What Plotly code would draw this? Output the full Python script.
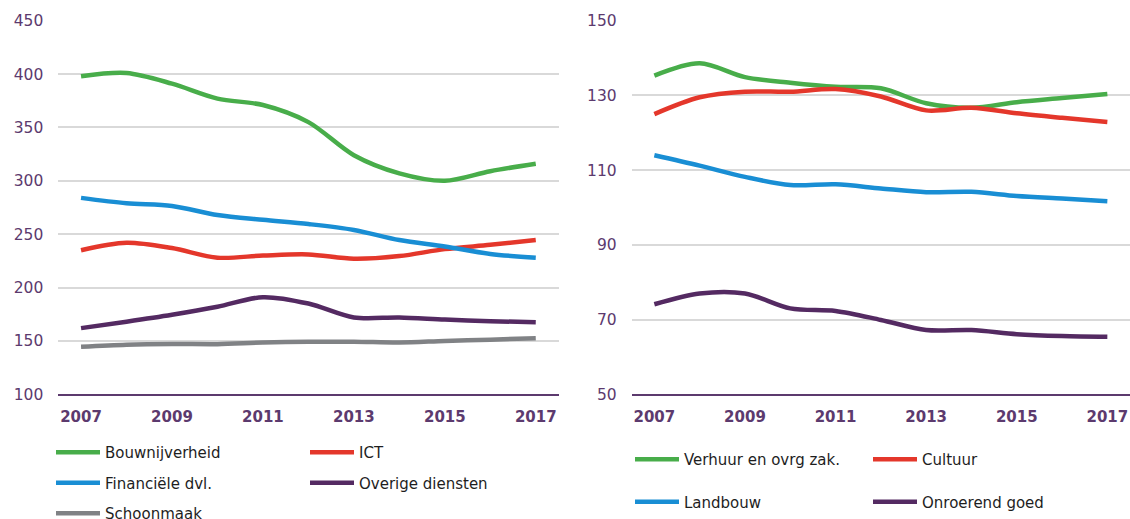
import plotly.graph_objects as go

years = list(range(2007, 2018))
tick_years = [2007, 2009, 2011, 2013, 2015, 2017]

# Left panel
bouwnijverheid = [398, 401, 391, 377, 371, 355, 324, 307, 300, 309, 316]
ict = [235, 242, 237, 228, 230, 231, 227, 229.5, 236, 240, 244.5]
financiele = [284, 279, 276.5, 268, 263.5, 259.5, 254, 244.5, 238.5, 231.5, 228]
overige = [162, 168, 174.5, 182, 191, 185, 172, 172, 170, 168.5, 167.5]
schoonmaak = [144.5, 146.5, 147.2, 147, 148.5, 149.2, 149.3, 148.5, 150, 151.2, 152.5]

# Right panel
verhuur = [135.3, 138.6, 134.9, 133.4, 132.3, 131.9, 127.9, 126.7, 128.2, 129.3, 130.4]
cultuur = [125, 129.5, 131, 131, 131.7, 129.7, 126, 126.7, 125.2, 124, 122.9]
landbouw = [114, 111.2, 108.2, 106, 106.2, 105.1, 104.1, 104.2, 103.1, 102.4, 101.7]
onroerend = [74.1, 77, 77, 73, 72.3, 69.9, 67.2, 67.2, 66.1, 65.6, 65.4]

GREEN = "rgb(72,173,74)"
RED = "rgb(228,55,43)"
BLUE = "rgb(25,142,212)"
PURPLE = "rgb(84,42,98)"
GRAY = "rgb(128,130,133)"
AXIS_PURPLE = "rgb(92,58,110)"
FONT = "DejaVu Sans, Verdana, sans-serif"

fig = go.Figure()

left_series = [
    ("Bouwnijverheid", bouwnijverheid, GREEN, "legend"),
    ("ICT", ict, RED, "legend2"),
    ("Financiële dvl.", financiele, BLUE, "legend"),
    ("Overige diensten", overige, PURPLE, "legend2"),
    ("Schoonmaak", schoonmaak, GRAY, "legend"),
]
right_series = [
    ("Verhuur en ovrg zak.", verhuur, GREEN, "legend3"),
    ("Cultuur", cultuur, RED, "legend4"),
    ("Landbouw", landbouw, BLUE, "legend3"),
    ("Onroerend goed", onroerend, PURPLE, "legend4"),
]

for name, vals, col, lg in left_series:
    fig.add_trace(go.Scatter(x=years, y=vals, name=name, mode="lines",
                             line=dict(color=col, width=4.5, shape="spline", smoothing=0.9),
                             xaxis="x", yaxis="y", legend=lg, legendgroup=name,
                             hoverinfo="x+y+name"))
for name, vals, col, lg in right_series:
    fig.add_trace(go.Scatter(x=years, y=vals, name=name, mode="lines",
                             line=dict(color=col, width=4.5, shape="spline", smoothing=0.9),
                             xaxis="x2", yaxis="y2", legend=lg, legendgroup=name,
                             hoverinfo="x+y+name"))

W, H = 1130, 519
ybot = (H - 394.3) / H
ytop = (H - 20.7) / H

xaxis_common = dict(range=[2006.5, 2017.5], tickvals=tick_years, showgrid=False,
                    zeroline=False, showline=True, linecolor=AXIS_PURPLE, linewidth=2,
                    ticks="", ticklabelstandoff=8, automargin=False,
                    tickfont=dict(family=FONT, size=15, color=AXIS_PURPLE, weight="bold"))
yaxis_common = dict(showgrid=True, gridcolor="rgb(217,217,217)", gridwidth=1.5,
                    zeroline=False, showline=False, ticks="", ticklabelstandoff=14,
                    automargin=False,
                    tickfont=dict(family=FONT, size=15.5, color=AXIS_PURPLE))

legend_common = dict(orientation="v", xanchor="left", yanchor="top",
                     bgcolor="rgba(0,0,0,0)", borderwidth=0,
                     font=dict(family=FONT, size=15, color="rgb(30,30,30)"),
                     itemwidth=44, traceorder="grouped")

fig.update_layout(
    width=W, height=H,
    margin=dict(l=0, r=0, t=0, b=0, autoexpand=False),
    paper_bgcolor="white", plot_bgcolor="white",
    font=dict(family=FONT),
    xaxis=dict(domain=[58.3 / W, 558.5 / W], anchor="y", **xaxis_common),
    yaxis=dict(domain=[ybot, ytop], range=[100, 450], tick0=100, dtick=50, anchor="x", **yaxis_common),
    xaxis2=dict(domain=[631.7 / W, 1.0], anchor="y2", **xaxis_common),
    yaxis2=dict(domain=[ybot, ytop], range=[50, 150], tick0=50, dtick=20, anchor="x2", **yaxis_common),
    legend=dict(x=51 / W, y=1 - 436 / H, tracegroupgap=8, **legend_common),
    legend2=dict(x=305 / W, y=1 - 436 / H, tracegroupgap=8, **legend_common),
    legend3=dict(x=630 / W, y=1 - 443 / H, tracegroupgap=20, **legend_common),
    legend4=dict(x=868 / W, y=1 - 443 / H, tracegroupgap=20, **legend_common),
    showlegend=True,
)

fig.write_html("out.html", config={"displayModeBar": False},
               post_script="document.body.style.margin='0';document.body.style.overflow='hidden';")
